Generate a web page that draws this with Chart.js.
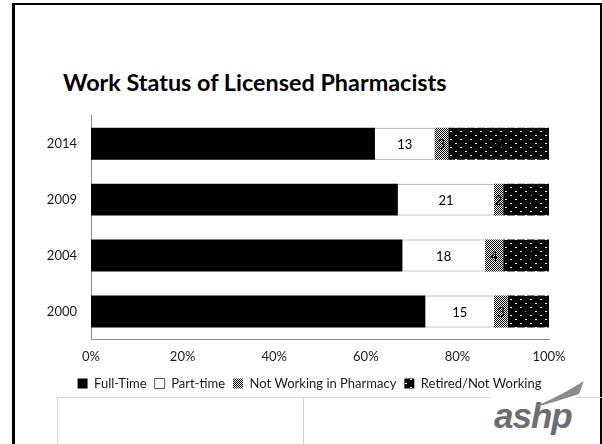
<!DOCTYPE html>
<html>
<head>
<meta charset="utf-8">
<script src="https://cdn.jsdelivr.net/npm/chart.js@4.4.1/dist/chart.umd.min.js"></script>
<style>
  html, body { margin: 0; padding: 0; background: #fff; }
  body { width: 602px; height: 444px; position: relative; overflow: hidden; font-family: Lato, "Open Sans", sans-serif; }
  .frame { position: absolute; left: 12px; top: 3px; width: 585px; height: 445px;
           border-left: 3px solid #000; border-top: 2px solid #000; border-right: 2px solid #000; }
  .title { position: absolute; left: 63px; top: 68px; margin: 0; font-size: 23.4px; font-weight: 700; color: #000; white-space: nowrap; }
  .chart-wrap { position: absolute; left: 14px; top: 94px; width: 586px; height: 306px; }
  .box { position: absolute; left: 57px; top: 397px; width: 560px; height: 60px; border-top: 1px solid #d4d4d4; border-left: 1px solid #d4d4d4; }
  .box-div { position: absolute; left: 303px; top: 397px; width: 1px; height: 60px; background: #d4d4d4; }
  .logo { position: absolute; left: 490px; top: 396px; font-family: "Liberation Sans", Arial, sans-serif;
          font-size: 35px; font-weight: 700; font-style: italic; color: #6d6e71; letter-spacing: -1px; background: #fff; padding: 0 4px; line-height: 40px; }
  .swoosh { position: absolute; left: 536px; top: 381px; }
</style>
</head>
<body>
<div class="frame"></div>
<h1 class="title">Work Status of Licensed Pharmacists</h1>
<div class="chart-wrap"><canvas id="chart"></canvas></div>
<div class="box"></div>
<div class="box-div"></div>
<div class="logo">ashp</div>
<svg class="swoosh" width="52" height="26" viewBox="0 0 52 26">
  <path d="M0 25 Q24 15 48 0 L43 13 Q24 19 4 25 Z" fill="#8a8b8e"/>
</svg>

<script>
// data (percent of licensed pharmacists)
const years = ['2014', '2009', '2004', '2000'];
const fullTime = [62, 67, 68, 73];
const partTime = [13, 21, 18, 15];
const notInPharmacy = [3, 2, 4, 3];
const retired = [22, 10, 10, 9];
const xTicks = [0, 20, 40, 60, 80, 100];

function checkerPattern() {
    const c = document.createElement('canvas');
    c.width = 2; c.height = 2;
    const g = c.getContext('2d');
    g.fillStyle = '#fff'; g.fillRect(0, 0, 2, 2);
    g.fillStyle = '#000'; g.fillRect(0, 0, 1, 1); g.fillRect(1, 1, 1, 1);
    return g.createPattern(c, 'repeat');
}

function dotPattern() {
    const c = document.createElement('canvas');
    c.width = 10; c.height = 8;
    const g = c.getContext('2d');
    g.fillStyle = '#000'; g.fillRect(0, 0, 10, 8);
    g.fillStyle = '#fff'; g.fillRect(1, 1, 2, 1); g.fillRect(6, 5, 2, 1);
    return g.createPattern(c, 'repeat');
}

// simple value labels in the middle of each segment
const barLabels = {
    id: 'barLabels',
    afterDatasetsDraw(chart) {
        const ctx = chart.ctx;
        ctx.save();
        ctx.font = '13px Lato, sans-serif';
        ctx.fillStyle = '#000';
        ctx.textAlign = 'center';
        ctx.textBaseline = 'middle';
        chart.data.datasets.forEach((ds, i) => {
            chart.getDatasetMeta(i).data.forEach((bar, j) => {
                const p = bar.getProps(['x', 'y', 'base']);
                ctx.fillText(ds.data[j], (p.x + p.base) / 2, p.y + 1);
            });
        });
        ctx.restore();
    }
};

// legend sits centred on the slide, not on the padded box
const legendShift = {
    id: 'legendShift',
    afterLayout(chart) {
        const lg = chart.legend;
        if (!lg) return;
        lg.left += 28;
        lg.right += 28;
    }
};

const common = { barPercentage: 0.57, categoryPercentage: 1.0 };

new Chart(document.getElementById('chart'), {
    type: 'bar',
    data: {
        labels: years,
        datasets: [
            { label: 'Full-Time', data: fullTime, backgroundColor: '#000', borderWidth: 0, ...common },
            { label: 'Part-time', data: partTime, backgroundColor: '#fff', borderColor: '#8c8c8c', borderWidth: { top: 1, bottom: 1 }, borderSkipped: false, ...common },
            { label: 'Not Working in Pharmacy', data: notInPharmacy, backgroundColor: checkerPattern(), borderWidth: 0, ...common },
            { label: 'Retired/Not Working', data: retired, backgroundColor: dotPattern(), borderWidth: 0, ...common },
        ]
    },
    options: {
        indexAxis: 'y',
        responsive: true,
        maintainAspectRatio: false,
        animation: false,
        layout: { padding: { top: 11, right: 51, left: 0, bottom: 0 } },
        scales: {
            x: {
                stacked: true,
                min: 0,
                max: 100,
                afterBuildTicks: (s) => { s.ticks = xTicks.map(v => ({ value: v })); },
                afterFit: (s) => { s.height -= 6; },
                grid: { display: false, drawTicks: false },
                border: { display: true, color: '#8c8c8c', width: 1 },
                ticks: {
                    padding: 10,
                    color: '#1a1a1a',
                    font: { family: 'Lato, sans-serif', size: 13 },
                    callback: (v) => v + '%'
                }
            },
            y: {
                stacked: true,
                grid: { display: false, drawTicks: false },
                border: { display: true, color: '#8c8c8c', width: 1 },
                afterFit: (s) => { s.width = 77; },
                ticks: {
                    padding: 14,
                    color: '#1a1a1a',
                    font: { family: 'Lato, sans-serif', size: 13 }
                }
            }
        },
        plugins: {
            legend: {
                position: 'bottom',
                labels: {
                    boxWidth: 10,
                    boxHeight: 10,
                    padding: 8,
                    color: '#1a1a1a',
                    font: { family: 'Lato, sans-serif', size: 13 },
                    generateLabels: (chart) => chart.data.datasets.map((ds, i) => ({
                        text: ds.label,
                        fillStyle: ds.backgroundColor,
                        strokeStyle: i === 1 ? '#555' : '#000',
                        lineWidth: i === 1 ? 1 : 0,
                        datasetIndex: i,
                        fontColor: '#1a1a1a'
                    }))
                }
            },
            tooltip: { enabled: false }
        }
    },
    plugins: [barLabels, legendShift]
});
</script>
</body>
</html>
